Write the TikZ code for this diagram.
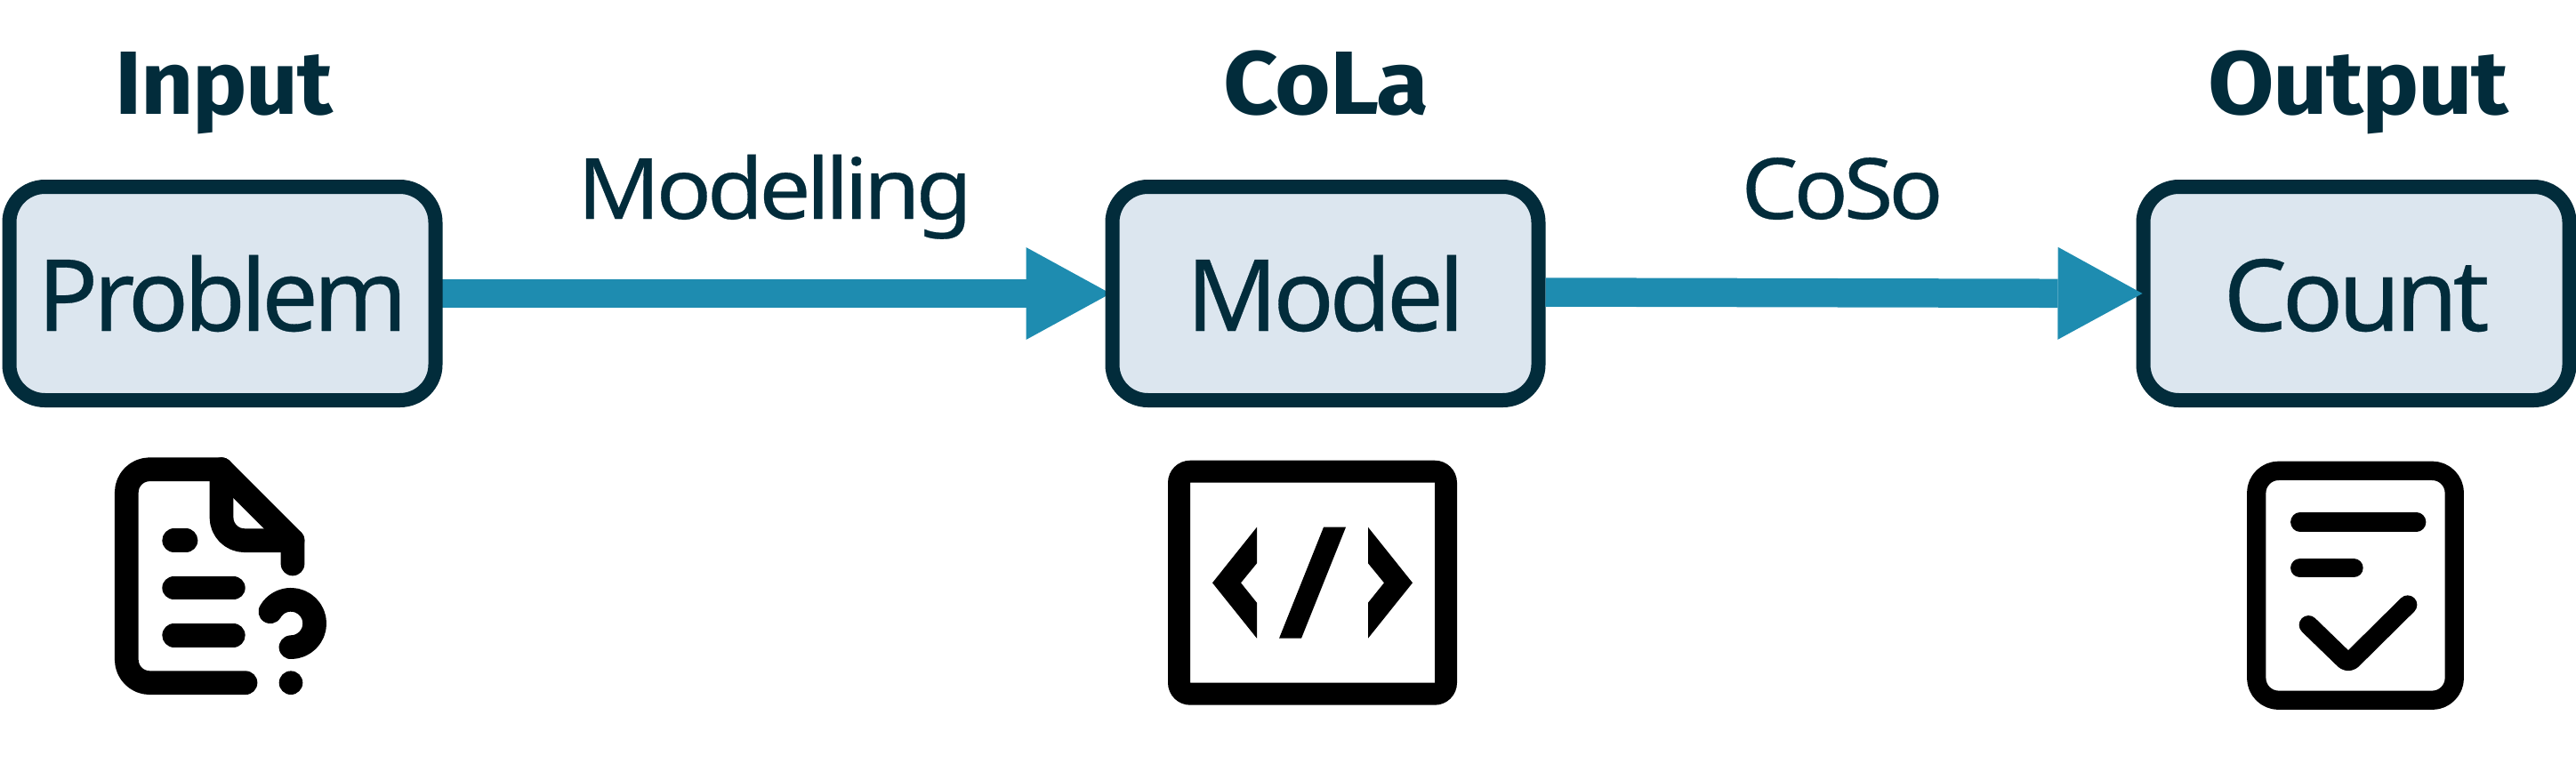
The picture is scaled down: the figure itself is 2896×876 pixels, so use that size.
\documentclass[tikz,border=0pt]{standalone}
\usepackage{graphicx}
\usepackage{fontspec}
\setmainfont{Noto Sans}[LetterSpace=-5,FakeBold=0.3]
\newfontfamily\headfont{Fira Sans}[LetterSpace=-1.5]
\usetikzlibrary{arrows.meta,backgrounds}
\definecolor{inkdark}{HTML}{022C3B}
\definecolor{boxfill}{HTML}{DCE6EF}
\definecolor{flowblue}{HTML}{1E8CB0}
\newcommand{\fitw}[2]{\resizebox{#1pt}{\height}{#2}}
\tikzset{
  stagebox/.style={draw=inkdark,fill=boxfill,line width=16pt,rounded corners=40pt,
    minimum width=479pt,minimum height=240pt,inner sep=0pt,outer sep=0pt,
    text=inkdark,text height=84pt,text depth=0pt,font=\fontsize{112}{120}\selectfont},
  headlabel/.style={anchor=base,inner sep=0pt,text=inkdark,font=\headfont\fontsize{101}{110}\selectfont\bfseries},
  flowlabel/.style={anchor=base,inner sep=0pt,text=inkdark,font=\fontsize{95}{106}\selectfont},
  flowarrow/.style={draw=flowblue,line width=32.5pt,{-{Triangle[length=95pt,width=104pt,line width=0pt,fill=flowblue]}}},
  iconline/.style={draw=black,line width=#1,line cap=round,line join=round},
}
\begin{document}
\begin{tikzpicture}[x=1pt,y=-1pt]
\useasboundingbox (0,0) rectangle (2896,876);
% boxes
\node[stagebox] (problem) at (250,330) {\fitw{416}{Problem}};
\node[stagebox] (model) at (1490,330) {\fitw{313}{Model}};
\node[stagebox] (count) at (2649,330) {\fitw{299}{Count}};
% arrows
\begin{scope}[on background layer]
\draw[flowarrow,shorten >=2pt] (problem.east) -- (model.west);
\end{scope}
\draw[flowarrow,shorten <=8pt,shorten >=1pt] ([yshift=1.5pt]model.east) -- (count.west);
% headings
\node[headlabel] (hinput) at (252,128) {\fitw{244}{Input}};
\node[headlabel] (hcola) at (1491,128) {\fitw{231}{CoLa}};
\node[headlabel] (houtput) at (2651,128) {\fitw{338}{Output}};
% arrow labels
\node[flowlabel] (lmodel) at (871,246) {\fitw{444}{Modelling}};
\node[flowlabel] (lcoso) at (2071,246) {\fitw{227}{CoSo}};
% icon: document with question mark
\draw[iconline=26.7pt,rounded corners=26pt] (276,767.7) -- (142.3,767.7) -- (142.3,527.7) -- (249,527.7);
\draw[iconline=26.7pt] (249,527.7) -- (329,607.7) -- (329,634);
\draw[iconline=26.7pt,rounded corners=26pt] (249,527.7) -- (249,607.7) -- (329,607.7);
\draw[iconline=26.7pt] (195.7,607.7) -- (209,607.7);
\draw[iconline=26.7pt] (195.7,661) -- (262.3,661);
\draw[iconline=26.7pt] (195.7,714.3) -- (262.3,714.3);
\draw[iconline=26.7pt] (303.9,687.7) .. controls (308.7,679.4) and (317.5,674.3) .. (327,674.3)
  .. controls (341.7,674.3) and (353.7,686.3) .. (353.7,701)
  .. controls (353.7,715.7) and (341.7,727.7) .. (327,727.7);
\fill[black] (327,767.7) circle[radius=13.3pt];
% icon: code frame
\fill[black,even odd rule] [rounded corners=25pt] (1313,517.7) rectangle (1638,792.7)
  [sharp corners] (1338,542.7) rectangle (1613,767.7);
\fill[black] (1413,592.7) -- (1363,655.3) -- (1413,717.7) -- (1413,677.7) -- (1395,655.3) -- (1413,633.3) -- cycle;
\fill[black] (1538,592.7) -- (1588,655.3) -- (1538,717.7) -- (1538,677.7) -- (1556,655.3) -- (1538,633.3) -- cycle;
\fill[black] (1488,592.7) -- (1513,592.7) -- (1463,717.7) -- (1438,717.7) -- cycle;
% icon: checklist
\draw[iconline=21.3pt,rounded corners=25pt] (2536.7,529.3) rectangle (2759.3,787.3);
\draw[iconline=21.3pt] (2585.7,587) -- (2716.7,587);
\draw[iconline=21.3pt] (2585.7,638.7) -- (2646,638.7);
\draw[iconline=21.3pt,rounded corners=6pt] (2595.3,702.7) -- (2640,746) -- (2706.7,680);
\end{tikzpicture}
\end{document}
